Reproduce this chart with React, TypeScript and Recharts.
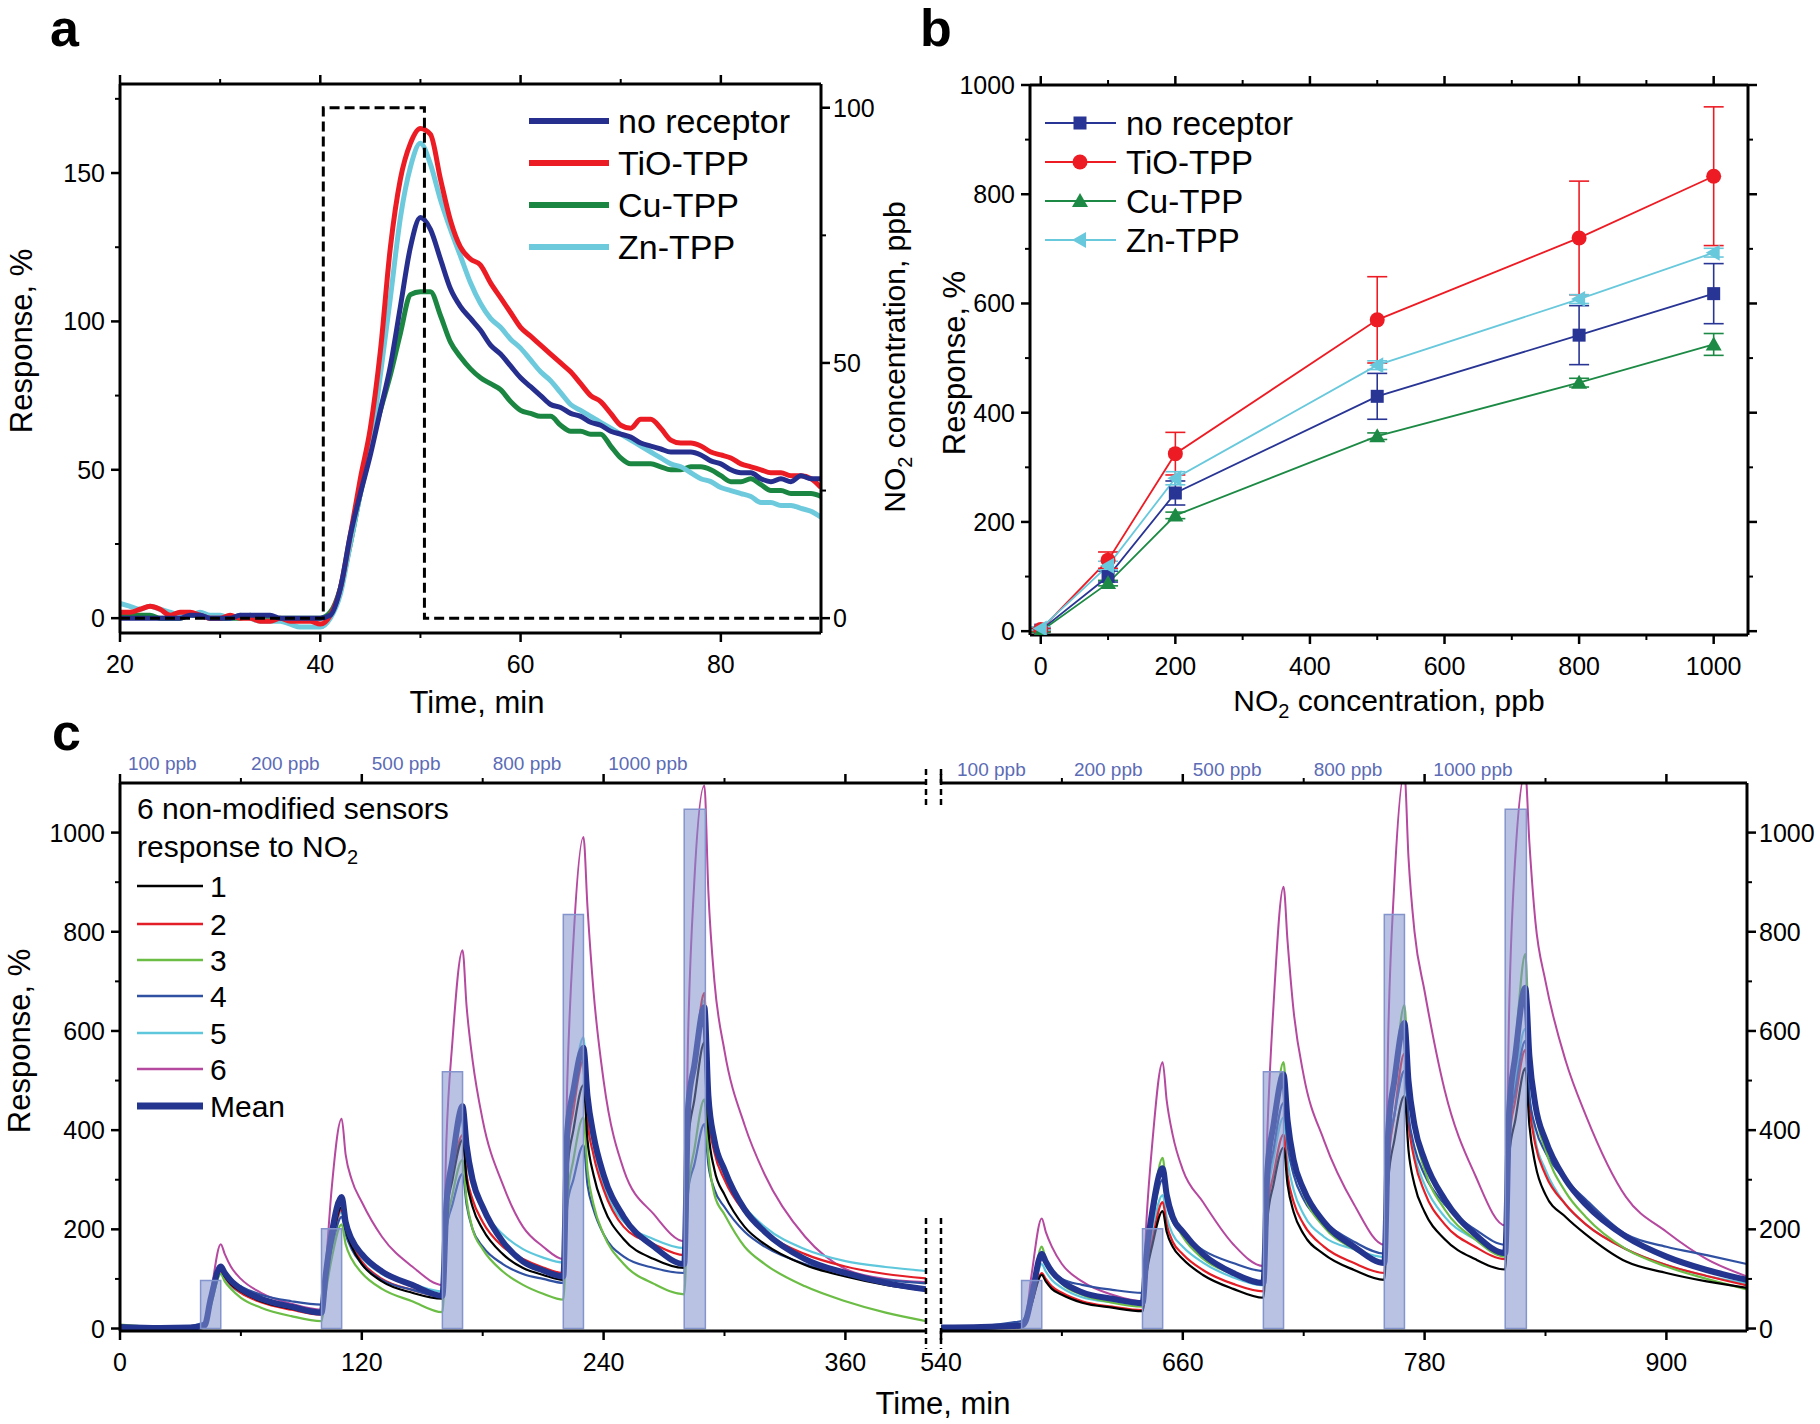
import React from 'react'
import { LineChart, Line, XAxis, YAxis, ReferenceArea, ReferenceLine, ErrorBar } from 'recharts'

const FONT = '"Liberation Sans", Arial, Helvetica, sans-serif'

// ---------- panel a: single 100 ppb pulse ----------
const A_TIME = [
  20, 21, 22, 23, 24, 25, 26, 27, 28, 29, 30, 31, 32, 33, 34, 35, 36, 37, 38, 39, 40,
  41, 42, 43, 44, 45, 46, 47, 48, 49, 50,
  51, 52, 53, 54, 55, 56, 57, 58, 59, 60, 61, 62, 63, 64, 65, 66, 67, 68, 69, 70,
  71, 72, 73, 74, 75, 76, 77, 78, 79, 80, 81, 82, 83, 84, 85, 86, 87, 88, 89, 90,
]
const A_NO_RECEPTOR = [
  0, 0, 0, 0, 0, 0, 0, 1, 1, 0, 0, 0, 1, 1, 1, 1, 0, 0, 0, 0, 0,
  1, 10, 28, 42, 55, 70, 85, 105, 125, 135,
  131, 121, 111, 105, 101, 97, 92, 89, 85, 81, 78, 75, 72, 71, 69, 68, 66, 65, 63, 62,
  61, 59, 58, 57, 56, 56, 56, 55, 53, 52, 50, 49, 49, 47, 46, 47, 46, 48, 47, 47,
]
const A_TIO_TPP = [
  2, 2, 3, 4, 3, 1, 2, 2, 1, 0, 0, 1, 0, 0, -1, -1, 0, -1, -1, -1, -2,
  1, 10, 28, 47, 64, 90, 125, 148, 160, 165,
  163, 148, 134, 125, 121, 119, 113, 108, 103, 98, 95, 92, 89, 86, 83, 79, 75, 73, 69, 65,
  64, 67, 67, 64, 60, 59, 59, 58, 56, 55, 54, 52, 51, 50, 49, 49, 48, 48, 47, 44,
]
const A_CU_TPP = [
  1, 1, 1, 1, 0, 0, 0, 1, 1, 0, 0, 0, 0, 1, 0, 0, 0, 0, 0, 0, 0,
  2, 10, 25, 42, 57, 70, 82, 96, 109, 110,
  110, 102, 93, 88, 84, 81, 79, 77, 73, 70, 69, 68, 68, 65, 63, 63, 62, 62, 58, 54,
  52, 52, 52, 51, 50, 50, 51, 51, 50, 48, 46, 46, 47, 45, 43, 43, 42, 42, 42, 41,
]
const A_ZN_TPP = [
  5, 4, 3, 4, 3, 2, 1, 1, 2, 1, 1, 0, 1, 0, -1, -1, -1, -2, -3, -3, -3,
  0, 8, 25, 42, 57, 82, 108, 135, 152, 160,
  153, 141, 131, 122, 113, 106, 101, 98, 94, 91, 87, 83, 80, 76, 72, 70, 68, 66, 64, 62,
  60, 58, 56, 54, 52, 51, 49, 47, 46, 44, 43, 42, 41, 39, 39, 38, 38, 37, 36, 34,
]
const A_DOSE_TIME = [20, 40.3, 40.3, 50.4, 50.4, 90]
const A_DOSE_PPB = [0, 0, 100, 100, 0, 0]

// ---------- panel b: calibration ----------
const B_CONC = [0, 100, 200, 500, 800, 1000]
const B_NO_RECEPTOR = [2, 100, 253, 430, 542, 618]
const B_NO_RECEPTOR_ERR = [3, 10, 22, 42, 54, 55]
const B_TIO_TPP = [3, 130, 325, 570, 720, 833]
const B_TIO_TPP_ERR = [3, 15, 39, 79, 104, 127]
const B_CU_TPP = [0, 88, 212, 357, 455, 525]
const B_CU_TPP_ERR = [2, 5, 6, 6, 8, 20]
const B_ZN_TPP = [5, 120, 280, 487, 608, 693]
const B_ZN_TPP_ERR = [3, 8, 12, 8, 8, 8]

// ---------- panel c: six sensors, two runs ----------
const C_L_TIME = [
  0, 20, 35, 40,
  42, 45, 50, 52, 55, 60, 70, 85, 100,
  102, 105, 110, 112, 115, 120, 130, 145, 160,
  162, 165, 170, 172, 175, 180, 190, 200, 210, 220,
  222, 225, 230, 232, 235, 240, 250, 265, 280,
  282, 285, 290, 292, 295, 300, 310, 320, 340, 360, 380, 400,
]
const C_L_S1 = [2, 0, 0, 2, 5, 50, 118, 105, 90, 75, 55, 40, 30, 90, 170, 245, 200, 165, 130, 95, 72, 60, 230, 300, 380, 300, 245, 200, 150, 122, 108, 98, 320, 400, 491, 380, 310, 245, 180, 140, 122, 380, 460, 577, 400, 320, 270, 205, 170, 128, 105, 88, 77]
const C_L_S2 = [5, 2, 1, 2, 5, 50, 115, 103, 88, 72, 53, 38, 28, 85, 165, 240, 200, 168, 135, 100, 78, 65, 240, 310, 390, 310, 260, 215, 165, 140, 123, 112, 350, 440, 540, 420, 350, 280, 205, 170, 148, 430, 530, 677, 430, 355, 300, 235, 195, 150, 125, 110, 101]
const C_L_S3 = [8, 3, 2, 3, 5, 45, 110, 95, 80, 62, 42, 25, 15, 70, 140, 210, 170, 140, 112, 80, 55, 33, 200, 270, 340, 260, 200, 160, 115, 88, 70, 58, 260, 340, 426, 320, 250, 190, 130, 90, 69, 280, 360, 462, 350, 270, 230, 165, 130, 85, 55, 32, 15]
const C_L_S4 = [0, 2, 5, 10, 12, 55, 122, 112, 98, 85, 68, 55, 48, 100, 160, 225, 190, 160, 130, 98, 78, 65, 200, 250, 312, 250, 200, 165, 130, 110, 100, 92, 250, 300, 370, 290, 240, 190, 145, 122, 112, 280, 330, 412, 330, 280, 245, 195, 165, 130, 110, 98, 91]
const C_L_S5 = [3, 2, 2, 4, 6, 45, 110, 98, 85, 72, 55, 43, 35, 90, 160, 235, 200, 170, 142, 110, 90, 75, 260, 330, 420, 340, 285, 240, 190, 160, 143, 133, 380, 480, 587, 450, 370, 290, 215, 180, 162, 440, 540, 662, 450, 370, 310, 245, 205, 160, 136, 124, 116]
const C_L_S6 = [6, 4, 3, 5, 8, 70, 170, 150, 125, 100, 72, 50, 38, 120, 280, 423, 350, 300, 255, 185, 125, 88, 380, 580, 763, 650, 540, 420, 290, 205, 165, 140, 500, 780, 991, 850, 680, 500, 320, 230, 176, 600, 900, 1095, 880, 700, 560, 410, 310, 185, 120, 100, 94]
const C_L_MEAN = [3, 1, 2, 4, 6, 60, 125, 112, 97, 80, 60, 44, 32, 105, 190, 265, 215, 180, 150, 115, 88, 66, 250, 340, 448, 370, 300, 245, 175, 135, 117, 105, 400, 480, 566, 470, 390, 310, 225, 165, 130, 450, 530, 648, 470, 380, 320, 240, 195, 140, 112, 92, 79]

const C_R_TIME = [
  540, 560, 575, 580,
  582, 585, 590, 592, 595, 600, 610, 625, 640,
  642, 645, 650, 652, 655, 660, 670, 685, 700,
  702, 705, 710, 712, 715, 720, 730, 745, 760,
  762, 765, 770, 772, 775, 780, 790, 805, 820,
  822, 825, 830, 832, 835, 840, 850, 860, 880, 900, 920, 940,
]
const C_R_S1 = [0, 0, 2, 3, 10, 50, 108, 95, 80, 68, 52, 42, 35, 110, 170, 237, 195, 165, 140, 108, 80, 62, 220, 290, 365, 290, 235, 190, 150, 118, 98, 300, 380, 469, 360, 290, 235, 180, 140, 119, 350, 420, 525, 410, 330, 270, 225, 190, 135, 112, 95, 82]
const C_R_S2 = [2, 2, 3, 4, 10, 50, 112, 100, 85, 72, 55, 44, 37, 115, 180, 255, 210, 175, 150, 118, 90, 75, 240, 310, 391, 310, 255, 210, 165, 132, 112, 330, 430, 555, 420, 340, 275, 210, 165, 140, 380, 460, 562, 450, 370, 310, 250, 210, 160, 128, 106, 87]
const C_R_S3 = [5, 2, 3, 4, 12, 65, 165, 140, 115, 90, 68, 52, 44, 150, 240, 344, 270, 225, 185, 141, 110, 94, 300, 400, 537, 420, 340, 270, 205, 160, 133, 400, 500, 652, 500, 400, 320, 240, 180, 145, 450, 570, 755, 560, 440, 360, 275, 225, 160, 125, 100, 79]
const C_R_S4 = [2, 5, 12, 15, 25, 70, 140, 130, 115, 100, 88, 78, 72, 150, 220, 300, 250, 215, 190, 158, 132, 116, 280, 360, 455, 370, 310, 260, 215, 175, 151, 360, 430, 520, 430, 365, 310, 250, 200, 169, 400, 480, 580, 470, 405, 355, 300, 260, 190, 165, 148, 130]
const C_R_S5 = [3, 2, 3, 4, 10, 55, 130, 115, 98, 82, 63, 53, 48, 130, 200, 269, 225, 190, 165, 133, 103, 87, 260, 340, 426, 340, 280, 230, 185, 160, 144, 340, 430, 519, 420, 350, 290, 225, 180, 148, 400, 500, 605, 470, 380, 320, 250, 210, 160, 128, 106, 91]
const C_R_S6 = [4, 2, 3, 5, 20, 110, 222, 195, 165, 130, 95, 68, 55, 220, 380, 537, 460, 390, 320, 255, 170, 126, 400, 650, 891, 780, 640, 510, 380, 250, 169, 600, 900, 1120, 950, 800, 680, 480, 310, 208, 650, 950, 1120, 980, 820, 700, 540, 430, 265, 195, 140, 105]
const C_R_MEAN = [2, 3, 5, 6, 15, 65, 151, 135, 115, 95, 73, 60, 51, 150, 240, 323, 270, 225, 195, 150, 112, 92, 320, 410, 512, 420, 340, 280, 215, 165, 132, 400, 500, 616, 500, 410, 340, 260, 190, 152, 440, 550, 687, 550, 450, 380, 300, 250, 185, 145, 118, 98]

// NO2 dosing pulses (bars)
const C_L_PULSE_START = [40, 100, 160, 220, 280]
const C_L_PULSE_END = [50, 110, 170, 230, 290.5]
const C_R_PULSE_START = [580, 640, 700, 760, 820]
const C_R_PULSE_END = [590, 650, 710, 770, 830.5]
const C_PULSE_HEIGHT = [97, 201, 518, 835, 1047]
const C_PPB_LABELS = ['100 ppb', '200 ppb', '500 ppb', '800 ppb', '1000 ppb']
const C_L_PPB_AT = [21, 82, 142, 202, 262]
const C_R_PPB_AT = [565, 623, 682, 742, 804]

const AX = { stroke: '#000', strokeWidth: 3 }

type Side = 'left' | 'right' | 'top' | 'bottom'

function axisTick(side: Side, majors: number[], labels: boolean, fs = 25) {
  return (p: any) => {
    const x = p.x
    const y = p.y
    const v = p.payload.value
    const major = majors.indexOf(v) !== -1
    const len = major ? 9 : 5
    let x2 = x
    let y2 = y
    if (side === 'bottom') y2 = y + len
    if (side === 'top') y2 = y - len
    if (side === 'left') x2 = x - len
    if (side === 'right') x2 = x + len
    let label = null
    const tp = { fontSize: fs, fontFamily: FONT, fill: '#000' }
    if (labels && major) {
      if (side === 'bottom') label = <text x={x} y={y + 40} textAnchor="middle" {...tp}>{v}</text>
      if (side === 'left') label = <text x={x - 15} y={y + 9} textAnchor="end" {...tp}>{v}</text>
      if (side === 'right') label = <text x={x + 12} y={y + 9} textAnchor="start" {...tp}>{v}</text>
    }
    return (
      <g>
        <line x1={x} y1={y} x2={x2} y2={y2} stroke="#000" strokeWidth={major ? 2.5 : 2} />
        {label}
      </g>
    )
  }
}

const pts = (xs: number[], ys: number[]) => xs.map((x, i) => ({ x, y: ys[i] }))
const ptsErr = (xs: number[], ys: number[], es: number[]) => xs.map((x, i) => ({ x, y: ys[i], e: es[i] }))

function PanelA() {
  const xt = [20, 30, 40, 50, 60, 70, 80]
  const yt = [0, 25, 50, 75, 100, 125, 150, 175]
  const rt = [0, 25, 50, 75, 100]
  const common = { xAxisId: 'b', yAxisId: 'l', dataKey: 'y', dot: false, isAnimationActive: false, type: 'monotone' as const, strokeWidth: 5 }
  return (
    <LineChart width={910} height={720} margin={{ top: 74, right: 9, bottom: 37, left: 60 }}>
      <XAxis xAxisId="b" type="number" dataKey="x" domain={[20, 90]} allowDataOverflow ticks={xt} interval={0}
        height={50} tickLine={false} tickSize={0} tickMargin={0} axisLine={AX} tick={axisTick('bottom', [20, 40, 60, 80], true)} />
      <XAxis xAxisId="t" orientation="top" type="number" dataKey="x" domain={[20, 90]} allowDataOverflow ticks={xt} interval={0}
        height={10} tickLine={false} tickSize={0} tickMargin={0} axisLine={AX} tick={axisTick('top', [20, 40, 60, 80], false)} />
      <YAxis yAxisId="l" type="number" domain={[-5, 180]} allowDataOverflow ticks={yt} interval={0} width={60}
        tickLine={false} tickSize={0} tickMargin={0} axisLine={AX} tick={axisTick('left', [0, 50, 100, 150], true)} />
      <YAxis yAxisId="r" orientation="right" type="number" domain={[-2.907, 104.65]} allowDataOverflow ticks={rt} interval={0} width={80}
        tickLine={false} tickSize={0} tickMargin={0} axisLine={AX} tick={axisTick('right', [0, 50, 100], true)} />
      <Line {...common} data={pts(A_TIME, A_CU_TPP)} stroke="#1b8641" />
      <Line {...common} data={pts(A_TIME, A_ZN_TPP)} stroke="#6ccadc" />
      <Line {...common} data={pts(A_TIME, A_TIO_TPP)} stroke="#ec1c24" />
      <Line {...common} data={pts(A_TIME, A_NO_RECEPTOR)} stroke="#262f8e" />
      <Line xAxisId="b" yAxisId="r" dataKey="y" data={pts(A_DOSE_TIME, A_DOSE_PPB)} type="linear" dot={false}
        isAnimationActive={false} stroke="#000" strokeWidth={3} strokeDasharray="10 5" />
    </LineChart>
  )
}

type Shape = 'square' | 'circle' | 'up' | 'left'

function drawMarker(shape: Shape, cx: number, cy: number, color: string, key?: any) {
  if (shape === 'square') return <rect key={key} x={cx - 6.5} y={cy - 6.5} width={13} height={13} fill={color} />
  if (shape === 'circle') return <circle key={key} cx={cx} cy={cy} r={7.5} fill={color} />
  if (shape === 'up') return <polygon key={key} points={`${cx},${cy - 8} ${cx - 8},${cy + 6} ${cx + 8},${cy + 6}`} fill={color} />
  return <polygon key={key} points={`${cx - 8},${cy} ${cx + 6},${cy - 8} ${cx + 6},${cy + 8}`} fill={color} />
}

const markerDot = (shape: Shape, color: string) => (p: any) => {
  if (p.cx == null || p.cy == null) return <g key={p.index} />
  return drawMarker(shape, p.cx, p.cy, color, p.index)
}

const B_SERIES = [
  { name: 'no receptor', color: '#283594', shape: 'square' as Shape, y: B_NO_RECEPTOR, e: B_NO_RECEPTOR_ERR },
  { name: 'TiO-TPP', color: '#ed1c24', shape: 'circle' as Shape, y: B_TIO_TPP, e: B_TIO_TPP_ERR },
  { name: 'Cu-TPP', color: '#1c8a44', shape: 'up' as Shape, y: B_CU_TPP, e: B_CU_TPP_ERR },
  { name: 'Zn-TPP', color: '#68c8dc', shape: 'left' as Shape, y: B_ZN_TPP, e: B_ZN_TPP_ERR },
]

function PanelB() {
  const xt = [0, 100, 200, 300, 400, 500, 600, 700, 800, 900, 1000]
  const yt = [0, 100, 200, 300, 400, 500, 600, 700, 800, 900, 1000]
  const xm = [0, 200, 400, 600, 800, 1000]
  return (
    <LineChart width={910} height={720} margin={{ top: 75, right: 62, bottom: 35, left: 60 }}>
      <XAxis xAxisId="b" type="number" dataKey="x" domain={[-16, 1051]} allowDataOverflow ticks={xt} interval={0}
        height={50} tickLine={false} tickSize={0} tickMargin={0} axisLine={AX} tick={axisTick('bottom', xm, true)} />
      <XAxis xAxisId="t" orientation="top" type="number" dataKey="x" domain={[-16, 1051]} allowDataOverflow ticks={xt} interval={0}
        height={10} tickLine={false} tickSize={0} tickMargin={0} axisLine={AX} tick={axisTick('top', xm, false)} />
      <YAxis yAxisId="l" type="number" domain={[-7, 1000]} allowDataOverflow ticks={yt} interval={0} width={60}
        tickLine={false} tickSize={0} tickMargin={0} axisLine={AX} tick={axisTick('left', xm, true)} />
      <YAxis yAxisId="r" orientation="right" type="number" domain={[-7, 1000]} allowDataOverflow ticks={yt} interval={0} width={10}
        tickLine={false} tickSize={0} tickMargin={0} axisLine={AX} tick={axisTick('right', xm, false)} />
      {B_SERIES.map((s) => (
        <Line key={s.name} xAxisId="b" yAxisId="l" dataKey="y" data={ptsErr(B_CONC, s.y, s.e)} type="linear"
          stroke={s.color} strokeWidth={1.8} isAnimationActive={false} dot={markerDot(s.shape, s.color)}>
          <ErrorBar dataKey="e" direction="y" width={10} stroke={s.color} strokeWidth={1.6} />
        </Line>
      ))}
    </LineChart>
  )
}

const C_SERIES = [
  { name: '6', color: '#b5489f', width: 2, l: C_L_S6, r: C_R_S6 },
  { name: '5', color: '#5fc7dc', width: 2.2, l: C_L_S5, r: C_R_S5 },
  { name: '2', color: '#e41e26', width: 2.2, l: C_L_S2, r: C_R_S2 },
  { name: '4', color: '#3050a2', width: 2.2, l: C_L_S4, r: C_R_S4 },
  { name: '3', color: '#6cbd45', width: 2.2, l: C_L_S3, r: C_R_S3 },
  { name: '1', color: '#000000', width: 2.2, l: C_L_S1, r: C_R_S1 },
  { name: 'Mean', color: '#24358f', width: 6, l: C_L_MEAN, r: C_R_MEAN },
]

function PanelC({ side }: { side: 'left' | 'right' }) {
  const isL = side === 'left'
  const time = isL ? C_L_TIME : C_R_TIME
  const domain = isL ? [0, 400] : [540, 940]
  const xt = isL ? [0, 60, 120, 180, 240, 300, 360] : [540, 600, 660, 720, 780, 840, 900]
  const xm = isL ? [0, 120, 240, 360] : [540, 660, 780, 900]
  const yt = [0, 100, 200, 300, 400, 500, 600, 700, 800, 900, 1000]
  const ym = [0, 200, 400, 600, 800, 1000]
  const starts = isL ? C_L_PULSE_START : C_R_PULSE_START
  const ends = isL ? C_L_PULSE_END : C_R_PULSE_END
  const ppbAt = isL ? C_L_PPB_AT : C_R_PPB_AT
  return (
    <LineChart width={940} height={704}
      margin={isL ? { top: 53, right: 14, bottom: 43, left: 60 } : { top: 53, right: 3, bottom: 43, left: 61 }}>
      <XAxis xAxisId="b" type="number" dataKey="x" domain={domain} allowDataOverflow ticks={xt} interval={0}
        height={50} tickLine={false} tickSize={0} tickMargin={0} axisLine={AX} tick={axisTick('bottom', xm, true)} />
      <XAxis xAxisId="t" orientation="top" type="number" dataKey="x" domain={domain} allowDataOverflow ticks={xt} interval={0}
        height={10} tickLine={false} tickSize={0} tickMargin={0} axisLine={AX} tick={axisTick('top', xm, false)} />
      <YAxis yAxisId="v" orientation={isL ? 'left' : 'right'} type="number" domain={[-5, 1100]} allowDataOverflow ticks={yt}
        interval={0} width={isL ? 60 : 70} tickLine={false} tickSize={0} tickMargin={0} axisLine={AX}
        tick={axisTick(isL ? 'left' : 'right', ym, true)} />
      {C_SERIES.map((s) => (
        <Line key={s.name} xAxisId="b" yAxisId="v" dataKey="y" data={pts(time, isL ? s.l : s.r)} type="monotone"
          stroke={s.color} strokeWidth={s.width} dot={false} isAnimationActive={false} />
      ))}
      {starts.map((x1, i) => (
        <ReferenceArea key={'p' + i} xAxisId="b" yAxisId="v" x1={x1} x2={ends[i]} y1={0} y2={C_PULSE_HEIGHT[i]}
          fill="#7f90cc" fillOpacity={0.55} stroke="#8494cc" strokeWidth={1.5} zIndex={450} />
      ))}
      {ppbAt.map((x, i) => (
        <ReferenceLine key={'l' + i} xAxisId="b" yAxisId="v" x={x} stroke="none"
          label={{ value: C_PPB_LABELS[i], position: 'top', offset: isL ? 13.5 : 7.5, fill: '#5b6bb5', fontSize: 19, fontFamily: FONT }} />
      ))}
    </LineChart>
  )
}

const sub = (dy: number, fs: number) => <tspan fontSize={fs} dy={dy}>2</tspan>

function Overlay() {
  const A_LEG = [
    { name: 'no receptor', color: '#262f8e', y: 121 },
    { name: 'TiO-TPP', color: '#ec1c24', y: 163 },
    { name: 'Cu-TPP', color: '#1b8641', y: 205 },
    { name: 'Zn-TPP', color: '#6ccadc', y: 247 },
  ]
  const B_LEG_Y = [123, 162, 201, 240]
  const C_LEG = [
    { name: '1', color: '#000000', w: 2.5 },
    { name: '2', color: '#e41e26', w: 2.5 },
    { name: '3', color: '#6cbd45', w: 2.5 },
    { name: '4', color: '#3050a2', w: 2.5 },
    { name: '5', color: '#5fc7dc', w: 2.5 },
    { name: '6', color: '#b5489f', w: 2.5 },
    { name: 'Mean', color: '#24358f', w: 7 },
  ]
  const C_LEG_Y = [886, 924, 960, 996, 1033, 1069, 1106]
  const t = { fontFamily: FONT, fill: '#000' }
  return (
    <svg width={1820} height={1424} style={{ position: 'absolute', left: 0, top: 0, pointerEvents: 'none' }}>
      <text x={50} y={46} fontSize={52} fontWeight="bold" {...t}>a</text>
      <text x={920} y={46} fontSize={52} fontWeight="bold" {...t}>b</text>
      <text x={52} y={750} fontSize={52} fontWeight="bold" {...t}>c</text>

      {/* panel a titles */}
      <text x={32} y={341} fontSize={31} textAnchor="middle" transform="rotate(-90 32 341)" {...t}>Response, %</text>
      <text x={905} y={357} fontSize={30} textAnchor="middle" transform="rotate(-90 905 357)" {...t}>
        NO{sub(7, 20)}<tspan dy={-7}> concentration, ppb</tspan>
      </text>
      <text x={477} y={713} fontSize={31} textAnchor="middle" {...t}>Time, min</text>
      {A_LEG.map((l) => (
        <g key={l.name}>
          <line x1={529} x2={609} y1={l.y} y2={l.y} stroke={l.color} strokeWidth={6} />
          <text x={618} y={l.y + 12} fontSize={34} {...t}>{l.name}</text>
        </g>
      ))}

      {/* panel b titles */}
      <text x={965} y={363} fontSize={31} textAnchor="middle" transform="rotate(-90 965 363)" {...t}>Response, %</text>
      <text x={1389} y={711} fontSize={30} textAnchor="middle" {...t}>
        NO{sub(7, 20)}<tspan dy={-7}> concentration, ppb</tspan>
      </text>
      {B_SERIES.map((s, i) => (
        <g key={s.name}>
          <line x1={1045} x2={1116} y1={B_LEG_Y[i]} y2={B_LEG_Y[i]} stroke={s.color} strokeWidth={2} />
          {drawMarker(s.shape, 1080, B_LEG_Y[i], s.color)}
          <text x={1126} y={B_LEG_Y[i] + 12} fontSize={33} {...t}>{s.name}</text>
        </g>
      ))}

      {/* panel c titles */}
      <text x={30} y={1041} fontSize={31} textAnchor="middle" transform="rotate(-90 30 1041)" {...t}>Response, %</text>
      <text x={943} y={1414} fontSize={31} textAnchor="middle" {...t}>Time, min</text>
      <text x={137} y={819} fontSize={30} {...t}>6 non-modified sensors</text>
      <text x={137} y={857} fontSize={30} {...t}>
        response to NO{sub(7, 20)}
      </text>
      {C_LEG.map((l, i) => (
        <g key={l.name}>
          <line x1={137} x2={203} y1={C_LEG_Y[i]} y2={C_LEG_Y[i]} stroke={l.color} strokeWidth={l.w} />
          <text x={210} y={C_LEG_Y[i] + 11} fontSize={30} {...t}>{l.name}</text>
        </g>
      ))}

      {/* axis break marks */}
      {[926, 941].map((x) => (
        <g key={x}>
          <line x1={x} x2={x} y1={769} y2={808} stroke="#000" strokeWidth={2.5} strokeDasharray="6 4" />
          <line x1={x} x2={x} y1={1218} y2={1349} stroke="#000" strokeWidth={2.5} strokeDasharray="6 4" />
        </g>
      ))}
    </svg>
  )
}

export default function App() {
  return (
    <div style={{ position: 'absolute', left: 0, top: 0, width: 1820, height: 1424, background: '#fff', fontFamily: FONT, overflow: 'hidden' }}>
      <div style={{ position: 'absolute', left: 0, top: 0 }}><PanelA /></div>
      <div style={{ position: 'absolute', left: 910, top: 0 }}><PanelB /></div>
      <div style={{ position: 'absolute', left: 0, top: 720 }}><PanelC side="left" /></div>
      <div style={{ position: 'absolute', left: 880, top: 720 }}><PanelC side="right" /></div>
      <Overlay />
    </div>
  )
}
